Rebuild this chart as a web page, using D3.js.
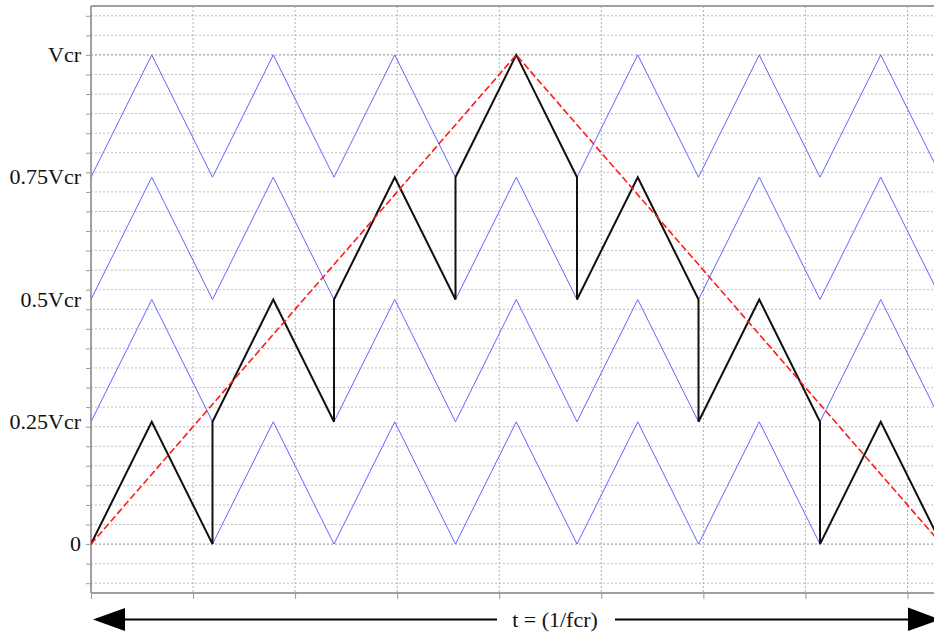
<!DOCTYPE html>
<html>
<head>
<meta charset="utf-8">
<script src="https://cdn.jsdelivr.net/npm/d3@7"></script>
<style>
  body { margin: 0; background: #fff; }
  svg { display: block; }
</style>
</head>
<body>
<div id="chart"></div>
<script>
// time in carrier periods, voltage in units of Vcr
let carrierTimes = [0, 0.5, 1, 1.5, 2, 2.5, 3, 3.5, 4, 4.5, 5, 5.5, 6, 6.5, 7];
let carrierShape = [0, 0.25, 0, 0.25, 0, 0.25, 0, 0.25, 0, 0.25, 0, 0.25, 0, 0.25, 0];
let carrierLevels = [0, 0.25, 0.5, 0.75];

let refTimes = [0, 3.5, 7];
let refValues = [0, 1, 0];

let outTimes = [0, 0.5, 1, 1, 1.5, 2, 2, 2.5, 3, 3, 3.5, 4, 4, 4.5, 5, 5, 5.5, 6, 6, 6.5, 7];
let outValues = [0, 0.25, 0, 0.25, 0.5, 0.25, 0.5, 0.75, 0.5, 0.75, 1, 0.75, 0.5, 0.75, 0.5, 0.25, 0.5, 0.25, 0, 0.25, 0];

let xGrid = [0, 0.84, 1.68, 2.52, 3.36, 4.2, 5.04, 5.88, 6.72];
let yGrid = [-0.08, -0.04, 0, 0.04, 0.08, 0.12, 0.16, 0.2, 0.24, 0.28, 0.32, 0.36, 0.4,
             0.44, 0.48, 0.52, 0.56, 0.6, 0.64, 0.68, 0.72, 0.76, 0.8, 0.84, 0.88,
             0.92, 0.96, 1, 1.04, 1.08];
let yLabelValues = [0, 0.25, 0.5, 0.75, 1];
let yLabels = ["0", "0.25Vcr", "0.5Vcr", "0.75Vcr", "Vcr"];

let width = 934, height = 634;
let plotLeft = 91, plotTop = 6, plotBottom = 593;

let svg = d3.select("#chart").append("svg")
  .attr("width", width)
  .attr("height", height);

let x = d3.scaleLinear().domain([0, 7]).range([plotLeft, plotLeft + 7 * 121.5]);
let y = d3.scaleLinear().domain([-0.1, 1.1]).range([plotBottom, plotTop]);

svg.append("clipPath").attr("id", "clip")
  .append("rect").attr("x", plotLeft).attr("y", plotTop)
  .attr("width", width - plotLeft).attr("height", plotBottom - plotTop);

// grid
let grid = svg.append("g");

grid.selectAll("line.hgrid")
  .data(yGrid)
  .enter().append("line")
  .attr("class", "hgrid")
  .attr("x1", plotLeft).attr("x2", width)
  .attr("y1", d => y(d)).attr("y2", d => y(d))
  .style("stroke", d => (Math.abs(d) < 1e-9 || Math.abs(d - 1) < 1e-9) ? "#8a8a8a" : "#bdbdbd")
  .style("stroke-dasharray", "2,2")
  .style("stroke-width", 1);

grid.selectAll("line.vgrid")
  .data(xGrid.slice(1))
  .enter().append("line")
  .attr("class", "vgrid")
  .attr("x1", d => x(d)).attr("x2", d => x(d))
  .attr("y1", plotTop).attr("y2", plotBottom)
  .style("stroke", "#b0b0b0")
  .style("stroke-dasharray", "2,2")
  .style("stroke-width", 1);

// axes
let yAxis = d3.axisLeft(y).tickValues(yGrid).tickSize(5).tickFormat("");
let gy = svg.append("g").attr("transform", "translate(" + plotLeft + ",0)").call(yAxis);
gy.select(".domain").remove();
gy.selectAll(".tick line").style("stroke", "#999");

let xAxis = d3.axisBottom(x).tickValues(xGrid).tickSize(6).tickFormat("");
let gx = svg.append("g").attr("transform", "translate(0," + plotBottom + ")").call(xAxis);
gx.select(".domain").remove();
gx.selectAll(".tick line").style("stroke", "#999");

let frame = svg.append("g").style("stroke", "#a0a0a0").style("stroke-width", 2);
frame.append("line").attr("x1", plotLeft).attr("x2", plotLeft).attr("y1", plotTop).attr("y2", plotBottom);
frame.append("line").attr("x1", plotLeft).attr("x2", width).attr("y1", plotTop).attr("y2", plotTop);
frame.append("line").attr("x1", plotLeft).attr("x2", width).attr("y1", plotBottom).attr("y2", plotBottom);

svg.selectAll("text.ylabel")
  .data(yLabelValues)
  .enter().append("text")
  .attr("class", "ylabel")
  .attr("x", 81)
  .attr("y", d => y(d) + 7)
  .attr("text-anchor", "end")
  .style("font-family", "'Liberation Serif', 'DejaVu Serif', serif")
  .style("font-size", "22px")
  .style("fill", "#111")
  .text((d, i) => yLabels[i]);

// waveforms
let lines = svg.append("g").attr("clip-path", "url(#clip)");
let line = d3.line().x(d => x(d[0])).y(d => y(d[1]));

carrierLevels.forEach(function(level) {
  let pts = carrierTimes.map((t, i) => [t, level + carrierShape[i]]);
  lines.append("path")
    .attr("d", line(pts))
    .style("fill", "none")
    .style("stroke", "#6464ff")
    .style("stroke-width", 1);
});

lines.append("path")
  .attr("d", line(outTimes.map((t, i) => [t, outValues[i]])))
  .style("fill", "none")
  .style("stroke", "#111")
  .style("stroke-width", 2)
  .style("stroke-linejoin", "miter");

lines.append("path")
  .attr("d", line(refTimes.map((t, i) => [t, refValues[i]])))
  .style("fill", "none")
  .style("stroke", "#ff1a1a")
  .style("stroke-width", 1.6)
  .style("stroke-dasharray", "7,3");

// time arrow
let ay = 619.5;
let arrow = svg.append("g");
arrow.append("line").attr("x1", 120).attr("x2", 497).attr("y1", ay).attr("y2", ay)
  .style("stroke", "#000").style("stroke-width", 2);
arrow.append("line").attr("x1", 615).attr("x2", 912).attr("y1", ay).attr("y2", ay)
  .style("stroke", "#000").style("stroke-width", 2);
arrow.append("path").attr("d", "M93," + ay + "L125," + (ay - 11.5) + "L125," + (ay + 11.5) + "Z")
  .style("fill", "#000");
arrow.append("path").attr("d", "M940," + ay + "L908," + (ay - 12) + "L908," + (ay + 11.5) + "Z")
  .style("fill", "#000");
arrow.append("text")
  .attr("x", 555).attr("y", 627)
  .attr("text-anchor", "middle")
  .style("font-family", "'Liberation Serif', 'DejaVu Serif', serif")
  .style("font-size", "22px")
  .style("fill", "#111")
  .text("t = (1/fcr)");
</script>
</body>
</html>
